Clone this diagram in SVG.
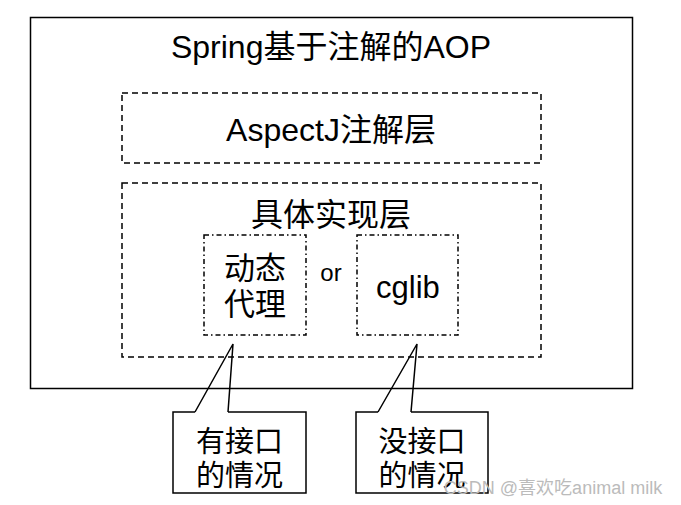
<svg xmlns="http://www.w3.org/2000/svg" width="681" height="505" viewBox="0 0 681 505">
<style>
text{font-family:"Liberation Sans","Noto Sans CJK SC",sans-serif;fill:#000;text-anchor:middle}
.solid{fill:none;stroke:#000;stroke-width:1.5}
.dash{fill:none;stroke:#000;stroke-width:1.5;stroke-dasharray:6 4}
.dashdot{fill:none;stroke:#000;stroke-width:1.5;stroke-dasharray:5 3 1.5 3}
</style>
<rect width="681" height="505" fill="#fff"/>
<g id="outer">
<rect class="solid" x="30.5" y="17.5" width="602" height="371"/>
<text x="331" y="58" font-size="32">Spring基于注解的AOP</text>
</g>
<g id="aspectj">
<rect class="dash" x="122" y="93" width="419" height="70"/>
<text x="331" y="141" font-size="32">AspectJ注解层</text>
</g>
<g id="impl">
<rect class="dash" x="122" y="183" width="419" height="174"/>
<text x="331" y="226" font-size="32">具体实现层</text>
</g>
<g id="proxy">
<rect class="dashdot" x="204" y="235" width="102" height="100"/>
<text x="255" y="279" font-size="31">动态</text>
<text x="255" y="315" font-size="31">代理</text>
</g>
<text id="or" x="331" y="281" font-size="24">or</text>
<g id="cglib">
<rect class="dashdot" x="357" y="235" width="101" height="100"/>
<text x="408" y="298" font-size="31">cglib</text>
</g>
<g id="connectors">
<path class="solid" d="M195,412 L233,344 L228,412"/>
<path class="solid" d="M378,412 L417,344 L411,412"/>
</g>
<g id="callout1">
<path class="solid" d="M195,412 H173 V493 H306 V412 H228"/>
<text x="239.5" y="452" font-size="29">有接口</text>
<text x="239.5" y="486" font-size="29">的情况</text>
</g>
<g id="callout2">
<path class="solid" d="M378,412 H356 V493 H488 V412 H411"/>
<text x="422" y="452" font-size="29">没接口</text>
<text x="422" y="486" font-size="29">的情况</text>
</g>
<text x="553" y="494" font-size="18" style="fill:#bbb">CSDN @喜欢吃animal milk</text>
</svg>
